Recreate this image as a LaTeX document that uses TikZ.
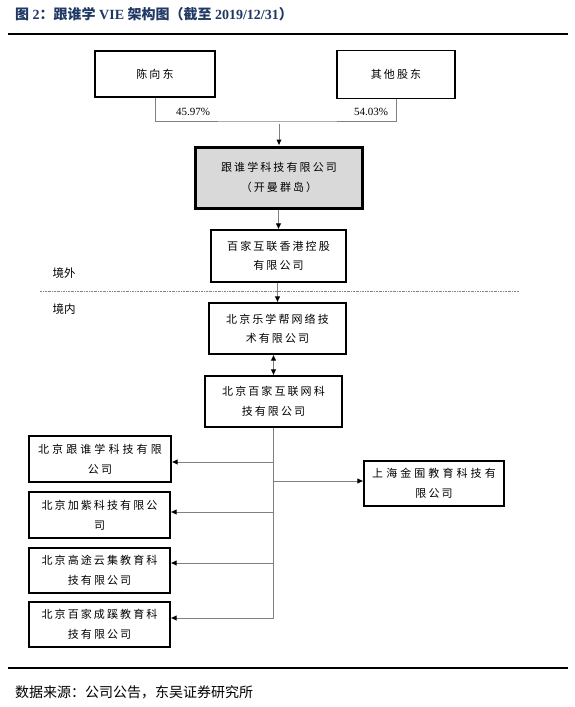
\documentclass[tikz,border=0pt]{standalone}
\usepackage{fontspec}
\setmainfont{Liberation Serif}
\newfontfamily\cjk{Noto Sans CJK SC}
\newfontfamily\boxfont[LetterSpace=19]{Noto Sans CJK SC}
\newfontfamily\boxwide[LetterSpace=28]{Noto Sans CJK SC}
\usetikzlibrary{arrows.meta}
\definecolor{titleblue}{HTML}{1F3864}
\definecolor{conngray}{HTML}{808080}
\definecolor{boxgray}{HTML}{D9D9D9}
\begin{document}
\begin{tikzpicture}[x=1pt,y=-1pt,
  ent/.style={draw=black,line width=1.1pt,inner sep=0pt,align=center,font=\boxfont\fontsize{11}{19.5}\selectfont},
  holdco/.style={ent,fill=boxgray,line width=3pt},
  conn/.style={draw=conngray,line width=1pt},
  arr/.style={conn,-{Latex[black,length=6pt,width=5.5pt]}},
  darr/.style={conn,{Latex[black,length=6pt,width=5.5pt]}-{Latex[black,length=6pt,width=5.5pt]}},
  rulestyle/.style={draw=black,line width=1.3pt},
  border dash/.style={draw=gray,line width=0.7pt,dash pattern=on 2pt off 1pt on 0.6pt off 1pt},
  lbl/.style={font=\fontsize{11}{13}\selectfont,inner sep=0pt},
  region/.style={font=\cjk\fontsize{11.5}{13}\selectfont,inner sep=0pt}]
\useasboundingbox[fill=white] (0,0) rectangle (575,707);

% title and rules
\node[anchor=west,inner sep=0pt,text=titleblue,font=\bfseries\fontsize{14}{16}\selectfont] (title) at (15,14)
  {{\cjk 图} 2{\cjk ：跟谁学} VIE {\cjk 架构图（截至} 2019/12/31{\cjk ）}};
\coordinate (r1l) at (8,34); \coordinate (r1r) at (568,34);
\draw[rulestyle] (r1l) -- (r1r);
\coordinate (r2l) at (8,668); \coordinate (r2r) at (568,668);
\draw[rulestyle] (r2l) -- (r2r);
\node[anchor=west,inner sep=0pt,font=\cjk\fontsize{14}{16}\selectfont] (src) at (15,692) {数据来源：公司公告，东吴证券研究所};

% shareholders
\node[ent,minimum width=120pt,minimum height=46pt] (chen) at (155,74) {陈向东};
\node[ent,minimum width=118pt,minimum height=48pt] (other) at (396,74.5) {其他股东};
\coordinate (j) at (279,121);
\draw[conn] (chen.south) |- (j) -| (other.south);
\node[lbl] (p1) at (193,112) {45.97\%};
\node[lbl] (p2) at (371,112) {54.03\%};

% holding chain
\node[holdco,minimum width=167pt,minimum height=61pt] (gsx) at (279,177.5) {跟谁学科技有限公司\\（开曼群岛）};
\coordinate (js) at (279,124);
\draw[arr] (js) -- (gsx.north);
\node[ent,minimum width=135pt,minimum height=52pt] (hk) at (278.5,256) {百家互联香港控股\\有限公司};
\draw[arr] (gsx.south -| hk.north) -- (hk.north);
\node[ent,minimum width=137pt,minimum height=51pt] (lxb) at (277.5,328.5) {北京乐学帮网络技\\术有限公司};
\draw[arr] (hk.south -| lxb.north) -- (lxb.north);
\node[ent,minimum width=137pt,minimum height=51pt] (bj) at (273.5,401.5) {北京百家互联网科\\技有限公司};
\draw[darr] (lxb.south -| bj.north) -- (bj.north);

% border line
\coordinate (dl) at (40,291); \coordinate (dr) at (519,291);
\draw[border dash] (dl) -- (dr);
\node[region] (out) at (64,273) {境外};
\node[region] (in) at (64,309) {境内};

% subsidiaries
\node[ent,minimum width=142pt,minimum height=46pt] (s1) at (100,459) {{\boxwide 北京跟谁学科技有限}\\公司};
\node[ent,minimum width=141pt,minimum height=46pt] (s2) at (99.5,515) {北京加紫科技有限公\\司};
\node[ent,minimum width=141pt,minimum height=45pt] (s3) at (99.5,570.5) {北京高途云集教育科\\技有限公司};
\node[ent,minimum width=141pt,minimum height=45pt] (s4) at (99.5,624.5) {北京百家成蹊教育科\\技有限公司};
\node[ent,minimum width=140pt,minimum height=45pt] (sh) at (434,483.5) {{\boxwide 上海金囿教育科技有}\\限公司};

\coordinate (t1) at (273.5,462);
\coordinate (t2) at (273.5,512);
\coordinate (t3) at (273.5,563);
\coordinate (t4) at (273.5,618);
\coordinate (tr) at (273.5,481);
\draw[conn] (bj.south) -- (t4);
\draw[arr] (t1) -- (t1 -| s1.east);
\draw[arr] (t2) -- (t2 -| s2.east);
\draw[arr] (t3) -- (t3 -| s3.east);
\draw[arr] (t4) -- (t4 -| s4.east);
\draw[arr] (tr) -- (tr -| sh.west);
\end{tikzpicture}
\end{document}
